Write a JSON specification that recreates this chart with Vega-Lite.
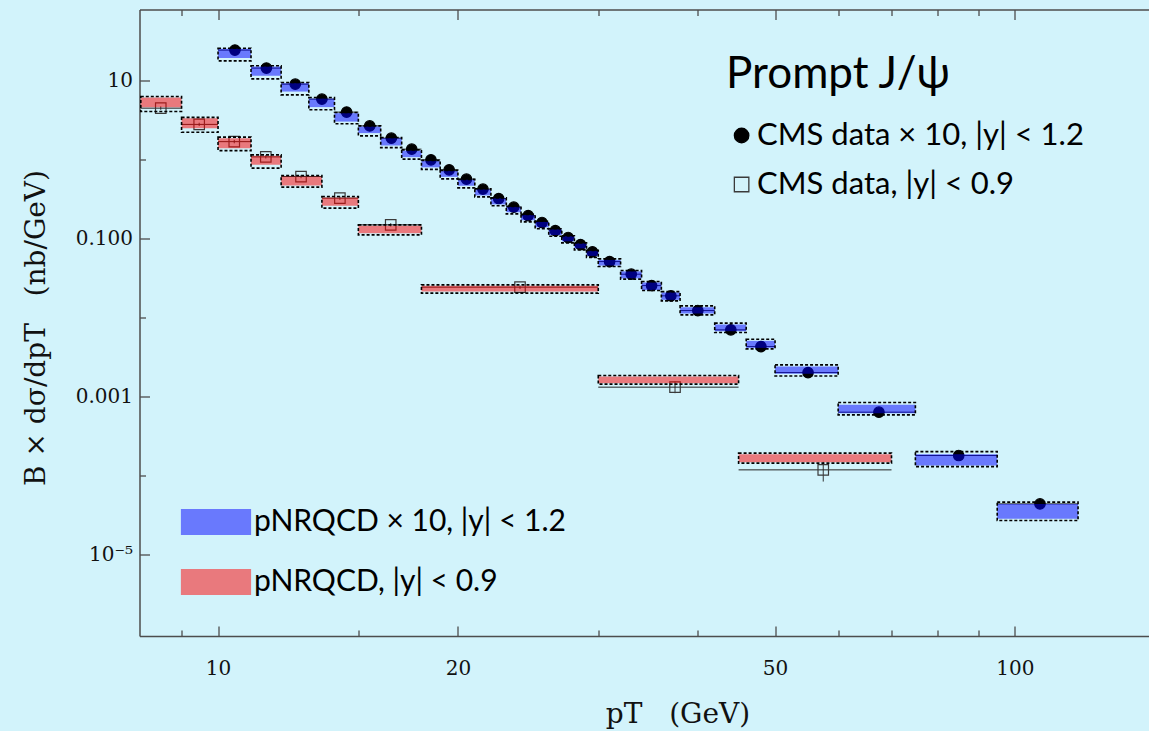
{
"$schema": "https://vega.github.io/schema/vega-lite/v6.json",
"width": 1009.5,
"height": 626.5,
"autosize": "none",
"padding": {"left": 139.5, "top": 9.5, "right": 0, "bottom": 95},
"background": "#d2f3fb",
"config": {
  "view": {"stroke": null},
  "axis": {"grid": false, "domainColor": "#4d4d4d", "domainWidth": 1.5, "tickColor": "#4d4d4d", "tickWidth": 1.3, "labelColor": "#111111", "labelFont": "DejaVu Serif", "labelFontSize": 20, "titleFont": "DejaVu Serif", "titleFontSize": 28, "titleFontWeight": "normal", "titleColor": "#111111"}
},
"datasets": {
  "bins": [
    {"s": "a", "th": "t1", "x1": 10, "x2": 11, "pt": 10.5, "val": 24.5, "flo": 19.4, "fhi": 25.4, "dlo": 17.9, "dhi": 25.9},
    {"s": "a", "th": "t1", "x1": 11, "x2": 12, "pt": 11.5, "val": 14.5, "flo": 11.6, "fhi": 15.2, "dlo": 10.6, "dhi": 15.5},
    {"s": "a", "th": "t1", "x1": 12, "x2": 13, "pt": 12.5, "val": 9.08, "flo": 7.32, "fhi": 9.35, "dlo": 6.65, "dhi": 9.52},
    {"s": "a", "th": "t1", "x1": 13, "x2": 14, "pt": 13.5, "val": 5.87, "flo": 4.65, "fhi": 5.97, "dlo": 4.30, "dhi": 6.15},
    {"s": "a", "th": "t1", "x1": 14, "x2": 15, "pt": 14.5, "val": 4.02, "flo": 3.05, "fhi": 3.90, "dlo": 2.86, "dhi": 3.97},
    {"s": "a", "th": "t1", "x1": 15, "x2": 16, "pt": 15.5, "val": 2.69, "flo": 2.18, "fhi": 2.64, "dlo": 2.01, "dhi": 2.69},
    {"s": "a", "th": "t1", "x1": 16, "x2": 17, "pt": 16.5, "val": 1.88, "flo": 1.52, "fhi": 1.88, "dlo": 1.43, "dhi": 1.92},
    {"s": "a", "th": "t1", "x1": 17, "x2": 18, "pt": 17.5, "val": 1.366, "flo": 1.082, "fhi": 1.311, "dlo": 1.021, "dhi": 1.339},
    {"s": "a", "th": "t1", "x1": 18, "x2": 19, "pt": 18.5, "val": 1.0, "flo": 0.804, "fhi": 0.971, "dlo": 0.758, "dhi": 0.986},
    {"s": "a", "th": "t1", "x1": 19, "x2": 20, "pt": 19.5, "val": 0.747, "flo": 0.609, "fhi": 0.726, "dlo": 0.575, "dhi": 0.736},
    {"s": "a", "th": "t1", "x1": 20, "x2": 21, "pt": 20.5, "val": 0.570, "flo": 0.469, "fhi": 0.558, "dlo": 0.442, "dhi": 0.566},
    {"s": "a", "th": "t1", "x1": 21, "x2": 22, "pt": 21.5, "val": 0.426, "flo": 0.355, "fhi": 0.423, "dlo": 0.340, "dhi": 0.430},
    {"s": "a", "th": "t1", "x1": 22, "x2": 23, "pt": 22.5, "val": 0.324, "flo": 0.273, "fhi": 0.326, "dlo": 0.262, "dhi": 0.330},
    {"s": "a", "th": "t1", "x1": 23, "x2": 24, "pt": 23.5, "val": 0.252, "flo": 0.217, "fhi": 0.254, "dlo": 0.207, "dhi": 0.258},
    {"s": "a", "th": "t1", "x1": 24, "x2": 25, "pt": 24.5, "val": 0.197, "flo": 0.172, "fhi": 0.201, "dlo": 0.164, "dhi": 0.204},
    {"s": "a", "th": "t1", "x1": 25, "x2": 26, "pt": 25.5, "val": 0.161, "flo": 0.140, "fhi": 0.164, "dlo": 0.134, "dhi": 0.167},
    {"s": "a", "th": "t1", "x1": 26, "x2": 27, "pt": 26.5, "val": 0.127, "flo": 0.112, "fhi": 0.132, "dlo": 0.108, "dhi": 0.134},
    {"s": "a", "th": "t1", "x1": 27, "x2": 28, "pt": 27.5, "val": 0.104, "flo": 0.093, "fhi": 0.108, "dlo": 0.089, "dhi": 0.109},
    {"s": "a", "th": "t1", "x1": 28, "x2": 29, "pt": 28.5, "val": 0.0847, "flo": 0.0758, "fhi": 0.0877, "dlo": 0.0726, "dhi": 0.089},
    {"s": "a", "th": "t1", "x1": 29, "x2": 30, "pt": 29.5, "val": 0.0685, "flo": 0.0609, "fhi": 0.0705, "dlo": 0.0583, "dhi": 0.0715},
    {"s": "a", "th": "t1", "x1": 30, "x2": 32, "pt": 31, "val": 0.0516, "flo": 0.0459, "fhi": 0.0542, "dlo": 0.0446, "dhi": 0.0558},
    {"s": "a", "th": "t1", "x1": 32, "x2": 34, "pt": 33, "val": 0.0357, "flo": 0.0316, "fhi": 0.0388, "dlo": 0.0309, "dhi": 0.0397},
    {"s": "a", "th": "t1", "x1": 34, "x2": 36, "pt": 35, "val": 0.0256, "flo": 0.0226, "fhi": 0.0281, "dlo": 0.0222, "dhi": 0.0288},
    {"s": "a", "th": "t1", "x1": 36, "x2": 38, "pt": 37, "val": 0.0190, "flo": 0.0169, "fhi": 0.0210, "dlo": 0.0164, "dhi": 0.0215},
    {"s": "a", "th": "t1", "x1": 38, "x2": 42, "pt": 40, "val": 0.01237, "flo": 0.01133, "fhi": 0.01358, "dlo": 0.01091, "dhi": 0.01419},
    {"s": "a", "th": "t1", "x1": 42, "x2": 46, "pt": 44, "val": 0.00705, "flo": 0.00675, "fhi": 0.00827, "dlo": 0.00652, "dhi": 0.00857},
    {"s": "a", "th": "t1", "x1": 46, "x2": 50, "pt": 48, "val": 0.00433, "flo": 0.00417, "fhi": 0.00512, "dlo": 0.00405, "dhi": 0.00537},
    {"s": "a", "th": "t1", "x1": 50, "x2": 60, "pt": 55, "val": 0.00203, "flo": 0.00196, "fhi": 0.00242, "dlo": 0.00184, "dhi": 0.00254},
    {"s": "a", "th": "t1", "x1": 60, "x2": 75, "pt": 67.5, "val": 0.00064, "flo": 0.000622, "fhi": 0.000792, "dlo": 0.000592, "dhi": 0.000847},
    {"s": "a", "th": "t1", "x1": 75, "x2": 95, "pt": 85, "val": 0.000181, "flo": 0.000135, "fhi": 0.000188, "dlo": 0.000131, "dhi": 0.000203},
    {"s": "a", "th": "t1", "x1": 95, "x2": 120, "pt": 107.5, "val": 0.0000442, "flo": 0.0000286, "fhi": 0.0000442, "dlo": 0.0000272, "dhi": 0.0000465},
    {"s": "b", "th": "t2", "x1": 8, "x2": 9, "pt": 8.475, "val": 4.51, "elo": 4.3, "ehi": 4.75, "flo": 4.62, "fhi": 6.15, "dlo": 4.09, "dhi": 6.33},
    {"s": "b", "th": "t2", "x1": 9, "x2": 10, "pt": 9.47, "val": 2.81, "elo": 2.68, "ehi": 2.95, "flo": 2.52, "fhi": 3.37, "dlo": 2.24, "dhi": 3.45},
    {"s": "b", "th": "t2", "x1": 10, "x2": 11, "pt": 10.48, "val": 1.70, "elo": 1.62, "ehi": 1.79, "flo": 1.406, "fhi": 1.88, "dlo": 1.31, "dhi": 1.94},
    {"s": "b", "th": "t2", "x1": 11, "x2": 12, "pt": 11.48, "val": 1.09, "elo": 1.04, "ehi": 1.15, "flo": 0.864, "fhi": 1.124, "dlo": 0.785, "dhi": 1.157},
    {"s": "b", "th": "t2", "x1": 12, "x2": 13.5, "pt": 12.71, "val": 0.615, "elo": 0.585, "ehi": 0.645, "flo": 0.473, "fhi": 0.615, "dlo": 0.451, "dhi": 0.633},
    {"s": "b", "th": "t2", "x1": 13.5, "x2": 15, "pt": 14.22, "val": 0.3275, "elo": 0.311, "ehi": 0.344, "flo": 0.2617, "fhi": 0.333, "dlo": 0.2446, "dhi": 0.343},
    {"s": "b", "th": "t2", "x1": 15, "x2": 18, "pt": 16.47, "val": 0.1504, "elo": 0.143, "ehi": 0.158, "flo": 0.1181, "fhi": 0.1461, "dlo": 0.1123, "dhi": 0.1504},
    {"s": "b", "th": "t2", "x1": 18, "x2": 30, "pt": 23.93, "val": 0.02446, "elo": 0.0232, "ehi": 0.0257, "flo": 0.02153, "fhi": 0.02542, "dlo": 0.02055, "dhi": 0.02617},
    {"s": "b", "th": "t2", "x1": 30, "x2": 45, "pt": 37.45, "val": 0.001327, "elo": 0.001113, "ehi": 0.001562, "flo": 0.001491, "fhi": 0.001807, "dlo": 0.001448, "dhi": 0.00186},
    {"s": "b", "th": "t2", "x1": 45, "x2": 70, "pt": 57.47, "val": 0.0001191, "elo": 0.0000847, "ehi": 0.0001503, "flo": 0.0001491, "fhi": 0.0001883, "dlo": 0.0001448, "dhi": 0.0001938}
  ]
},
"data": {"name": "bins"},
"layer": [
  {
    "layer": [
      {
        "transform": [{"filter": "isValid(datum.elo)"}],
        "mark": {"type": "rule", "color": "#333333", "strokeWidth": 1},
        "encoding": {
          "x": {"field": "pt", "type": "quantitative", "scale": {"type": "log", "domain": [7.97, 147.3], "nice": false},
            "axis": {"orient": "bottom", "title": "pT\u00a0\u00a0\u00a0(GeV)", "values": [9, 10, 15, 20, 30, 40, 50, 60, 70, 80, 90, 100],
              "labelExpr": "indexof([10,20,50,100], datum.value) >= 0 ? datum.value + '' : ''",
              "tickSize": {"condition": {"test": "indexof([10,20,50,100], datum.value) >= 0", "value": -10}, "value": -6},
              "labelPadding": 32, "titleX": 538, "titleY": 78, "titleAlign": "center", "titleBaseline": "middle"}},
          "y": {"field": "elo", "type": "quantitative", "scale": {"type": "log", "domain": [9.4e-7, 80], "nice": false},
            "axis": {"orient": "left", "title": "B × dσ/dpT\u00a0\u00a0\u00a0(nb/GeV)", "values": [0.00001, 0.0001, 0.001, 0.01, 0.1, 1, 10],
              "labelExpr": "round(log(datum.value)/LN10) == 1 ? '10' : round(log(datum.value)/LN10) == -1 ? '0.100' : round(log(datum.value)/LN10) == -3 ? '0.001' : round(log(datum.value)/LN10) == -5 ? '10⁻⁵' : ''",
              "tickSize": {"condition": {"test": "indexof([1,-1,-3,-5], round(log(datum.value)/LN10)) >= 0", "value": -10}, "value": -6},
              "labelPadding": 17, "titleX": -103, "titleY": 318, "titleAngle": 270, "titleAlign": "center", "titleBaseline": "middle"}},
          "y2": {"field": "ehi"}
        }
      },
      {
        "mark": {"type": "rule", "color": "#222222", "strokeWidth": 1},
        "encoding": {
          "x": {"field": "x1", "type": "quantitative", "scale": {"type": "log"}},
          "x2": {"field": "x2"},
          "y": {"field": "val", "type": "quantitative", "scale": {"type": "log"}}
        }
      },
      {
        "mark": {"type": "point", "filled": true, "size": 110, "strokeWidth": 1.2, "opacity": 1},
        "encoding": {
          "x": {"field": "pt", "type": "quantitative", "scale": {"type": "log"}},
          "y": {"field": "val", "type": "quantitative", "scale": {"type": "log"}},
          "shape": {"field": "s", "type": "nominal", "scale": {"domain": ["a", "b"], "range": ["circle", "square"]},
            "legend": {"orient": "none", "legendX": 586.6, "legendY": 43.5, "title": "Prompt J/ψ", "titleFont": "Lato", "titleFontSize": 44, "titleFontWeight": "normal", "titleColor": "black", "titlePadding": 23, "titleLimit": 0, "symbolSize": 210, "symbolStrokeWidth": 1.3, "labelFont": "Lato", "labelFontSize": 31, "labelColor": "black", "labelOffset": 0, "labelLimit": 0, "rowPadding": 17, "padding": 0,
              "labelExpr": "datum.value == 'a' ? 'CMS data × 10, |y| < 1.2' : 'CMS data, |y| < 0.9'"}},
          "fill": {"field": "s", "type": "nominal", "scale": {"domain": ["a", "b"], "range": ["black", "transparent"]}},
          "stroke": {"field": "s", "type": "nominal", "scale": {"domain": ["a", "b"], "range": ["black", "#3a3a3a"]}}
        }
      },
      {
        "mark": {"type": "rect"},
        "encoding": {
          "x": {"field": "x1", "type": "quantitative", "scale": {"type": "log"}},
          "x2": {"field": "x2"},
          "y": {"field": "flo", "type": "quantitative", "scale": {"type": "log"}},
          "y2": {"field": "fhi"},
          "color": {"field": "th", "type": "nominal", "scale": {"domain": ["t1", "t2"], "range": ["rgba(0,0,255,0.5)", "rgba(255,0,0,0.5)"]},
            "legend": {"orient": "none", "legendX": 61.5, "legendY": 497.5, "title": null, "direction": "vertical", "symbolType": "M-2.7,-1H2.7V1H-2.7Z", "symbolSize": 676, "symbolStrokeWidth": 0, "labelFont": "Lato", "labelFontSize": 30, "labelColor": "black", "labelOffset": 23, "labelLimit": 0, "rowPadding": 30, "padding": 0,
              "labelExpr": "datum.value == 't1' ? 'pNRQCD × 10, |y| < 1.2' : 'pNRQCD, |y| < 0.9'"}}
        }
      },
      {
        "mark": {"type": "rect", "filled": false, "stroke": "black", "strokeWidth": 1.6, "strokeDash": [3, 2]},
        "encoding": {
          "x": {"field": "x1", "type": "quantitative", "scale": {"type": "log"}},
          "x2": {"field": "x2"},
          "y": {"field": "dlo", "type": "quantitative", "scale": {"type": "log"}},
          "y2": {"field": "dhi"}
        }
      }
    ]
  },
  {
    "mark": {"type": "rule", "opacity": 0},
    "encoding": {
      "x": {"field": "pt", "type": "quantitative", "scale": {"type": "log"},
        "axis": {"orient": "top", "title": null, "labels": false, "values": [9, 10, 15, 20, 30, 40, 50, 60, 70, 80, 90, 100],
          "tickSize": {"condition": {"test": "indexof([10,20,50,100], datum.value) >= 0", "value": -10}, "value": -6}}},
      "y": {"field": "val", "type": "quantitative", "scale": {"type": "log"}, "axis": null}
    }
  }
],
"resolve": {"axis": {"x": "independent", "y": "independent"}}
}
